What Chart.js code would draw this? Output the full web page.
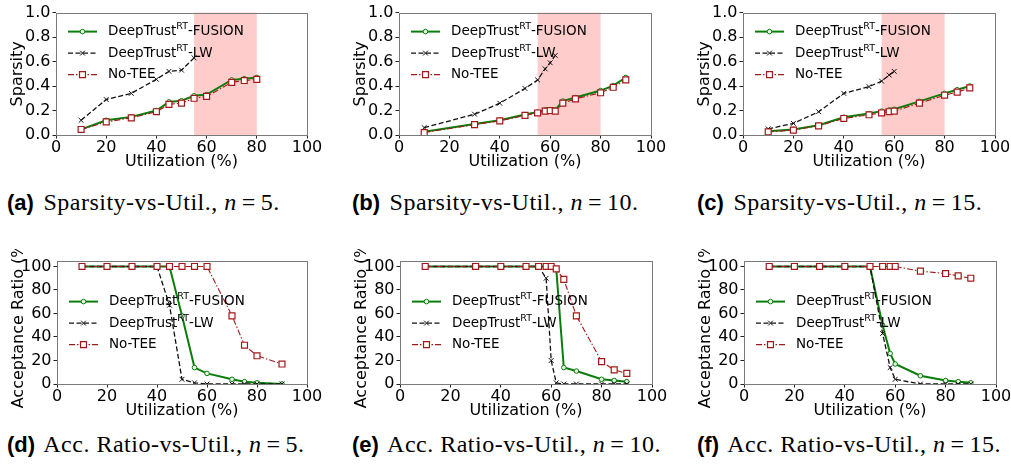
<!DOCTYPE html>
<html lang="en">
<head>
<meta charset="UTF-8">
<title>Sparsity and acceptance ratio vs utilization</title>
<script src="https://cdn.jsdelivr.net/npm/chart.js"></script>
<style>
  body { margin: 0; width: 1011px; height: 465px; background: #fff; position: relative; overflow: hidden; }
  canvas { position: absolute; }
  .cap { position: absolute; font-family: 'Liberation Serif', serif; font-size: 24px; line-height: 24px; white-space: nowrap; color: #000; letter-spacing: 0.5px; }
  .cap b { font-family: 'Liberation Sans', sans-serif; font-size: 22px; letter-spacing: 0; margin-right: 3px; }
  .cap .eq { margin: 0 5px; }
</style>
</head>
<body>
<canvas id="ca"></canvas><canvas id="cb"></canvas><canvas id="cc"></canvas>
<canvas id="cd"></canvas><canvas id="ce"></canvas><canvas id="cf"></canvas>
<div class="cap" style="left:7px;top:190px"><b>(a)</b> Sparsity-vs-Util., <i>n</i><span class="eq">=</span>5.</div>
<div class="cap" style="left:352px;top:190px"><b>(b)</b> Sparsity-vs-Util., <i>n</i><span class="eq">=</span>10.</div>
<div class="cap" style="left:697px;top:190px"><b>(c)</b> Sparsity-vs-Util., <i>n</i><span class="eq">=</span>15.</div>
<div class="cap" style="left:7px;top:432px"><b>(d)</b> Acc. Ratio-vs-Util., <i>n</i><span class="eq">=</span>5.</div>
<div class="cap" style="left:352px;top:432px"><b>(e)</b> Acc. Ratio-vs-Util., <i>n</i><span class="eq">=</span>10.</div>
<div class="cap" style="left:697px;top:432px"><b>(f)</b> Acc. Ratio-vs-Util., <i>n</i><span class="eq">=</span>15.</div>
<script>
// tick labels
const utilTicks = [0, 20, 40, 60, 80, 100];
const sparsityTicks = [0, 0.2, 0.4, 0.6, 0.8, 1.0];
const accTicks = [0, 20, 40, 60, 80, 100];
const shadeRange = [55, 80];

// legend text: [main, superscript, rest]
const legendLabels = [['DeepTrust', 'RT', '-FUSION'], ['DeepTrust', 'RT', '-LW'], ['No-TEE', '', '']];

// (a) sparsity, n=5
const utilA = [10, 20, 30, 40, 45, 50, 55, 60, 70, 75, 80];
const fusionA = [0.046, 0.12, 0.148, 0.2, 0.27, 0.28, 0.32, 0.33, 0.45, 0.46, 0.47];
const noTeeA = [0.045, 0.107, 0.14, 0.19, 0.25, 0.26, 0.30, 0.315, 0.43, 0.445, 0.455];
const lwUtilA = [10, 20, 30, 40, 45, 50, 55];
const lwA = [0.12, 0.29, 0.34, 0.455, 0.52, 0.53, 0.63];

// (b) sparsity, n=10
const utilB = [10, 30, 40, 50, 55, 58, 60, 62, 65, 70, 80, 85, 90];
const fusionB = [0.027, 0.09, 0.12, 0.167, 0.188, 0.205, 0.205, 0.205, 0.277, 0.306, 0.363, 0.403, 0.47];
const noTeeB = [0.02, 0.085, 0.115, 0.16, 0.18, 0.195, 0.2, 0.195, 0.26, 0.295, 0.345, 0.39, 0.45];
const lwUtilB = [10, 30, 40, 50, 55, 58, 60, 62];
const lwB = [0.06, 0.17, 0.26, 0.38, 0.45, 0.54, 0.59, 0.65];

// (c) sparsity, n=15
const utilC = [10, 20, 30, 40, 50, 55, 58, 60, 70, 80, 85, 90];
const fusionC = [0.03, 0.045, 0.08, 0.145, 0.175, 0.195, 0.205, 0.21, 0.275, 0.34, 0.37, 0.40];
const noTeeC = [0.025, 0.04, 0.075, 0.135, 0.165, 0.18, 0.19, 0.195, 0.26, 0.325, 0.35, 0.385];
const lwUtilC = [10, 20, 30, 40, 50, 55, 58, 60];
const lwC = [0.05, 0.095, 0.19, 0.34, 0.395, 0.44, 0.49, 0.52];

// (d) acceptance ratio, n=5
const utilD = [10, 20, 30, 40, 45, 50, 55, 60, 70, 75, 80, 90];
const fusionD = [100, 100, 100, 100, 100, 58, 14, 9, 4, 2, 1, 0];
const lwD = [100, 100, 100, 100, 67, 4, 1, 0, 0, 0, 0, 0];
const noTeeD = [100, 100, 100, 100, 100, 100, 100, 100, 58, 33, 24, 17];

// (e) acceptance ratio, n=10
const utilE = [10, 30, 40, 50, 55, 58, 60, 62, 65, 70, 80, 85, 90];
const fusionE = [100, 100, 100, 100, 100, 100, 100, 98, 14, 11, 4, 3, 2];
const lwE = [100, 100, 100, 100, 100, 90, 20, 1, 0, 0, 0, 0, 0];
const noTeeE = [100, 100, 100, 100, 100, 100, 100, 98, 89, 58, 19, 12, 9];

// (f) acceptance ratio, n=15
const utilF = [10, 20, 30, 40, 50, 55, 58, 60, 70, 80, 85, 90];
const fusionF = [100, 100, 100, 100, 100, 50, 26, 17, 7, 3, 2, 1];
const lwF = [100, 100, 100, 100, 100, 43, 14, 4, 0, 0, 0, 0];
const noTeeF = [100, 100, 100, 100, 100, 100, 100, 100, 96, 94, 92, 90];

// layout: plot-area boxes in page pixels
const YW = 56, XH = 38, PT = 10, PR = 18;
const FONT = 'DejaVu Sans';

function pts(xs, ys) { return xs.map((x, i) => ({ x: x, y: ys[i] })); }

function datasets(fx, fy, lx, ly, nx, ny) {
  return [
    { label: legendLabels[0].join(''), data: pts(fx, fy), order: 3,
      borderColor: '#0a7d0a', borderWidth: 2, borderDash: [],
      pointStyle: 'circle', pointRadius: 2.3, pointBorderWidth: 1,
      pointBorderColor: '#0a7d0a', pointBackgroundColor: '#e6f3e6' },
    { label: legendLabels[1].join(''), data: pts(lx, ly), order: 2,
      borderColor: '#111', borderWidth: 1.3, borderDash: [5, 2.5],
      pointStyle: 'crossRot', pointRadius: 3.4, pointBorderWidth: 1,
      pointBorderColor: '#111', pointBackgroundColor: '#111' },
    { label: legendLabels[2].join(''), data: pts(nx, ny), order: 1,
      borderColor: '#a31818', borderWidth: 1.1, borderDash: [6, 2, 1.5, 2],
      pointStyle: 'rect', pointRadius: 4.2, pointBorderWidth: 1.2,
      pointBorderColor: '#a31818', pointBackgroundColor: '#fff' }
  ];
}

const shade = {
  id: 'shade',
  beforeDatasetsDraw(chart, args, opts) {
    if (!opts.range) return;
    const a = chart.chartArea, xs = chart.scales.x, ctx = chart.ctx;
    const x0 = xs.getPixelForValue(opts.range[0]), x1 = xs.getPixelForValue(opts.range[1]);
    ctx.save();
    ctx.fillStyle = 'rgba(255,0,0,0.2)';
    ctx.fillRect(x0, a.top, x1 - x0, a.bottom - a.top);
    ctx.restore();
  }
};

const frame = {
  id: 'frame',
  afterDatasetsDraw(chart) {
    const a = chart.chartArea, ctx = chart.ctx;
    ctx.save();
    ctx.strokeStyle = '#7a7a7a';
    ctx.lineWidth = 1;
    ctx.strokeRect(Math.round(a.left) + 0.5, Math.round(a.top) + 0.5,
      Math.round(a.right - a.left), Math.round(a.bottom - a.top));
    ctx.restore();
  }
};

function marker(ctx, ds, x, y) {
  const r = ds.pointRadius;
  ctx.lineWidth = ds.pointBorderWidth;
  ctx.strokeStyle = ds.pointBorderColor;
  ctx.fillStyle = ds.pointBackgroundColor;
  ctx.beginPath();
  if (ds.pointStyle === 'circle') {
    ctx.arc(x, y, r, 0, Math.PI * 2);
    ctx.fill(); ctx.stroke();
  } else if (ds.pointStyle === 'rect') {
    const s = r * Math.SQRT1_2;
    ctx.rect(x - s, y - s, 2 * s, 2 * s);
    ctx.fill(); ctx.stroke();
  } else {
    const s = r * Math.SQRT1_2;
    ctx.moveTo(x - s, y - s); ctx.lineTo(x + s, y + s);
    ctx.moveTo(x - s, y + s); ctx.lineTo(x + s, y - s);
    ctx.stroke();
  }
}

// matplotlib-style frameless legend with superscripts
const mplLegend = {
  id: 'mplLegend',
  afterDraw(chart, args, opts) {
    const a = chart.chartArea, ctx = chart.ctx;
    chart.data.datasets.forEach((ds, i) => {
      const y = a.top + opts.top + i * opts.gap;
      const x0 = a.left + 12, x1 = x0 + 29;
      ctx.save();
      ctx.strokeStyle = ds.borderColor;
      ctx.lineWidth = ds.borderWidth;
      ctx.setLineDash(ds.borderDash);
      ctx.beginPath(); ctx.moveTo(x0, y); ctx.lineTo(x1, y); ctx.stroke();
      ctx.setLineDash([]);
      marker(ctx, ds, (x0 + x1) / 2, y);
      const parts = legendLabels[i];
      ctx.fillStyle = '#000';
      ctx.textBaseline = 'middle';
      let tx = x1 + 11;
      ctx.font = '13.5px "' + FONT + '"';
      ctx.fillText(parts[0], tx, y);
      tx += ctx.measureText(parts[0]).width;
      if (parts[1]) {
        ctx.font = '9.5px "' + FONT + '"';
        ctx.fillText(parts[1], tx, y - 5);
        tx += ctx.measureText(parts[1]).width;
        ctx.font = '13.5px "' + FONT + '"';
        ctx.fillText(parts[2], tx, y);
      }
      ctx.restore();
    });
  }
};

function makeChart(id, box, data, yCfg, legendTop, shadeOn) {
  const cv = document.getElementById(id);
  cv.width = (box.r - box.l) + YW + PR;
  cv.height = (box.b - box.t) + PT + XH;
  cv.style.left = (box.l - YW) + 'px';
  cv.style.top = (box.t - PT) + 'px';
  const tickFont = { family: FONT, size: 16 };
  new Chart(cv, {
    type: 'line',
    data: { datasets: data },
    plugins: [shade, frame, mplLegend],
    options: {
      responsive: false,
      animation: false,
      layout: { padding: { top: PT, right: PR, left: 0, bottom: 0 } },
      elements: { line: { tension: 0 } },
      plugins: {
        legend: { display: false },
        tooltip: { enabled: false },
        shade: { range: shadeOn ? shadeRange : null },
        mplLegend: { top: legendTop, gap: 21.5 }
      },
      scales: {
        x: {
          type: 'linear', min: 0, max: 100,
          afterBuildTicks: s => { s.ticks = utilTicks.map(v => ({ value: v })); },
          afterFit: s => { s.height = XH; },
          grid: { drawOnChartArea: false, tickLength: 3.5, color: '#222' },
          border: { display: false },
          ticks: { color: '#000', font: tickFont, padding: 0, maxRotation: 0, autoSkip: false },
          title: { display: true, text: 'Utilization (%)', color: '#000', font: tickFont, padding: { top: 0, bottom: 2 } }
        },
        y: {
          type: 'linear', min: yCfg.min, max: yCfg.max,
          afterBuildTicks: s => { s.ticks = yCfg.ticks.map(v => ({ value: v })); },
          afterFit: s => { s.width = YW; },
          grid: { drawOnChartArea: false, tickLength: 3.5, color: '#222' },
          border: { display: false },
          ticks: { color: '#000', font: tickFont, padding: 2, autoSkip: false, callback: yCfg.fmt },
          title: { display: true, text: yCfg.title, color: '#000', font: tickFont, padding: { top: 8, bottom: 0 } }
        }
      }
    }
  });
}

const sparsityAxis = { min: 0, max: 1, ticks: sparsityTicks, title: 'Sparsity', fmt: v => v.toFixed(1) };
const accAxis = { min: 0, max: 105, ticks: accTicks, title: 'Acceptance Ratio (%)', fmt: v => String(v) };

makeChart('ca', { l: 56, t: 11, r: 307, b: 135 }, datasets(utilA, fusionA, lwUtilA, lwA, utilA, noTeeA), sparsityAxis, 19, true);
makeChart('cb', { l: 399, t: 11, r: 651, b: 135 }, datasets(utilB, fusionB, lwUtilB, lwB, utilB, noTeeB), sparsityAxis, 19, true);
makeChart('cc', { l: 743, t: 11, r: 995, b: 135 }, datasets(utilC, fusionC, lwUtilC, lwC, utilC, noTeeC), sparsityAxis, 19, true);
makeChart('cd', { l: 57, t: 259, r: 307, b: 384 }, datasets(utilD, fusionD, utilD, lwD, utilD, noTeeD), accAxis, 41, false);
makeChart('ce', { l: 400, t: 259, r: 652, b: 384 }, datasets(utilE, fusionE, utilE, lwE, utilE, noTeeE), accAxis, 41, false);
makeChart('cf', { l: 744, t: 259, r: 996, b: 384 }, datasets(utilF, fusionF, utilF, lwF, utilF, noTeeF), accAxis, 41, false);
</script>
</body>
</html>
